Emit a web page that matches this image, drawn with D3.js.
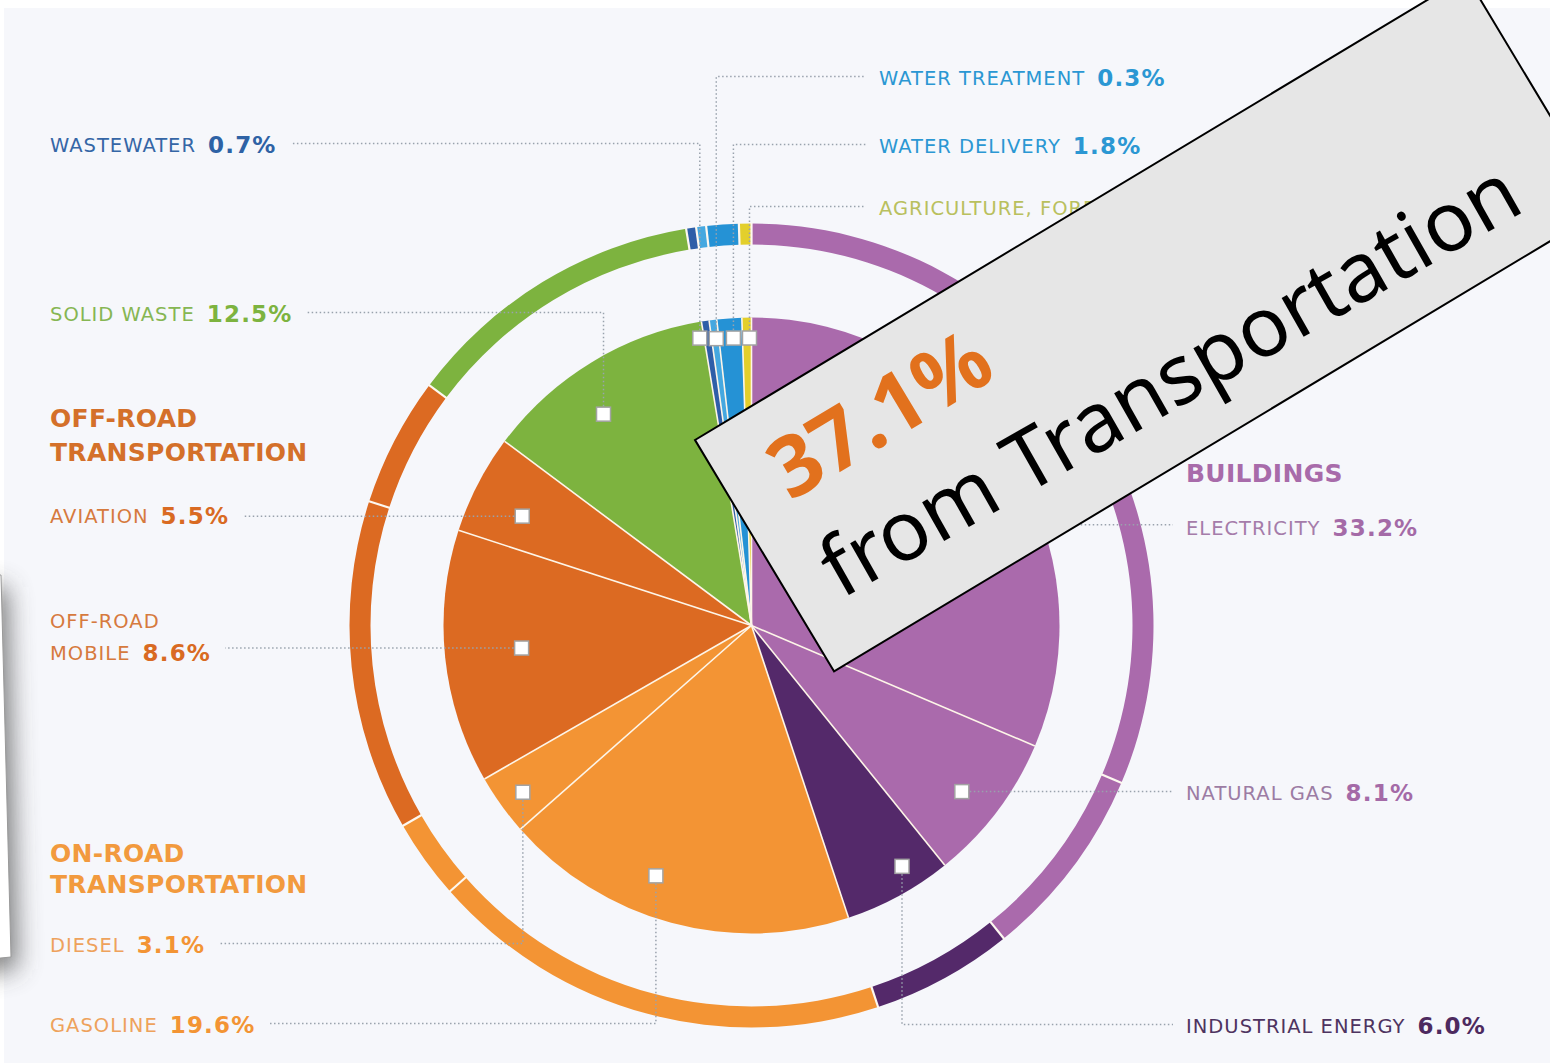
<!DOCTYPE html>
<html>
<head>
<meta charset="utf-8">
<script src="https://cdn.jsdelivr.net/npm/d3@7/dist/d3.min.js"></script>
<style>
    body { margin: 0; background: #ffffff; }
    svg { display: block; }
</style>
</head>
<body>
<svg id="chart" width="1550" height="1063"></svg>
<script>
// sectors clockwise from 12 o'clock
var sectors = ["Electricity", "Natural Gas", "Industrial Energy", "Gasoline", "Diesel", "Off-Road Mobile",
    "Aviation", "Solid Waste", "Wastewater", "Water Treatment", "Water Delivery", "Agriculture"];
var labelNames = [["ELECTRICITY"], ["NATURAL GAS"], ["INDUSTRIAL ENERGY"], ["GASOLINE"], ["DIESEL"],
    ["OFF-ROAD", "MOBILE"], ["AVIATION"], ["SOLID WASTE"], ["WASTEWATER"], ["WATER TREATMENT"],
    ["WATER DELIVERY"], ["AGRICULTURE, FORESTRY & OTHER LAND USE"]];
var pctLabels = ["33.2%", "8.1%", "6.0%", "19.6%", "3.1%", "8.6%", "5.5%", "12.5%", "0.7%", "0.3%", "1.8%", "0.6%"];
// share of the circle each slice takes in the picture (%)
var sliceShare = [31.4, 7.8, 5.7, 18.6, 3.2, 13.3, 5.2, 12.2, 0.4, 0.4, 1.3, 0.5];
var groupHeads = [["BUILDINGS"], ["OFF-ROAD", "TRANSPORTATION"], ["ON-ROAD", "TRANSPORTATION"]];
var calloutPct = "37.1%";
var calloutText = "from Transportation";

var sliceColors = ["#aa6aac", "#aa6aac", "#54296a", "#f39434", "#f39434", "#dc6a22",
    "#dc6a22", "#7db33f", "#2e5ea8", "#45a8e0", "#2592d5", "#e3cf2c"];
var nameColors = ["#a57caa", "#9c7ca4", "#4e3360", "#eea25c", "#eea25c", "#d67a3e",
    "#d67a3e", "#86b653", "#3566a6", "#2b97d3", "#2b97d3", "#b9c05e"];
var pctColors = ["#a46aa7", "#a46aa7", "#4d2a5f", "#f39434", "#f39434", "#d96a22",
    "#d96a22", "#7db33f", "#2e62a5", "#2b97d3", "#2b97d3", "#b9c05e"];
var headColors = ["#a86baa", "#d4702a", "#f29a3e"];

// label layout: side, text x, baseline of last line, marker angle (deg) and radius
var labelLayout = [
    {side: "R", x: 1186, y: 535, ang: 56, r: 180},
    {side: "R", x: 1186, y: 800, ang: 128.3, r: 268},
    {side: "R", x: 1186, y: 1033, ang: 148, r: 284},
    {side: "L", x: 50, y: 1032, ang: 200.9, r: 268},
    {side: "L", x: 50, y: 952, ang: 233.9, r: 283},
    {side: "L", x: 50, y: 660, ang: 264.4, r: 231},
    {side: "L", x: 50, y: 523, ang: 295.5, r: 254},
    {side: "L", x: 50, y: 321, ang: 325, r: 258},
    {side: "L", x: 50, y: 152, ang: 349.8, r: 292},
    {side: "R", x: 879, y: 85, ang: 353.0, r: 289},
    {side: "R", x: 879, y: 153, ang: 356.4, r: 288},
    {side: "R", x: 879, y: 215, ang: 359.6, r: 287.5}
];
var headLayout = [
    {x: 1186, y: [482]},
    {x: 50, y: [427, 461]},
    {x: 50, y: [862, 893]}
];

var CX = 751.5, CY = 625.5;
var PIE_R = 308, RING_IN = 381, RING_OUT = 402;
var FONT = "'DejaVu Sans', sans-serif";

var svg = d3.select("#chart");

// page background
svg.append("rect").attr("x", 4).attr("y", 8).attr("width", 1546).attr("height", 1055).attr("fill", "#f6f7fb");

// left edge: corner of another page with its shadow
var defs = svg.append("defs");
defs.append("filter").attr("id", "blurShadow").attr("x", "-50%").attr("y", "-50%").attr("width", "200%").attr("height", "200%")
    .append("feGaussianBlur").attr("stdDeviation", 13);
var pagePts = [[-80, 575], [1, 575], [11, 957], [-80, 966]];
svg.append("polygon").attr("points", pagePts.map(function (p) { return (p[0] + 6) + "," + (p[1] + 12); }).join(" "))
    .attr("fill", "#404040").attr("opacity", 0.7).attr("filter", "url(#blurShadow)");
svg.append("polygon").attr("points", pagePts.map(function (p) { return p.join(","); }).join(" "))
    .attr("fill", "#ffffff").attr("stroke", "#9a9a9a").attr("stroke-width", 1);

var pie = d3.pie().sort(null).value(function (d) { return d; });
var arcs = pie(sliceShare);

var g = svg.append("g").attr("transform", "translate(" + CX + "," + CY + ")");
var pieArc = d3.arc().innerRadius(0).outerRadius(PIE_R);
var ringArc = d3.arc().innerRadius(RING_IN).outerRadius(RING_OUT);

g.selectAll("path.slice").data(arcs).enter().append("path").attr("class", "slice")
    .attr("d", pieArc).attr("fill", function (d, i) { return sliceColors[i]; });
g.selectAll("path.ring").data(arcs).enter().append("path").attr("class", "ring")
    .attr("d", ringArc).attr("fill", function (d, i) { return sliceColors[i]; });

// thin separators between slices
function polar(a, r) {
    return [Math.sin(a) * r, -Math.cos(a) * r];
}
arcs.forEach(function (d) {
    var a = d.startAngle;
    var p = polar(a, PIE_R);
    g.append("line").attr("x1", 0).attr("y1", 0).attr("x2", p[0]).attr("y2", p[1])
        .attr("stroke", "#fdf5e8").attr("stroke-width", 1.6);
    var p1 = polar(a, RING_IN - 1), p2 = polar(a, RING_OUT + 1);
    g.append("line").attr("x1", p1[0]).attr("y1", p1[1]).attr("x2", p2[0]).attr("y2", p2[1])
        .attr("stroke", "#fdf8f0").attr("stroke-width", 2.2);
});

// labels + leader lines
var leaders = svg.append("g");
var markers = svg.append("g");
var texts = svg.append("g");

labelLayout.forEach(function (L, i) {
    var a = L.ang * Math.PI / 180;
    var mp = polar(a, L.r);
    var mx = CX + mp[0], my = CY + mp[1];

    var names = labelNames[i];
    var lineH = 32;
    var endX = 0;
    names.forEach(function (nm, k) {
        var by = L.y - (names.length - 1 - k) * lineH;
        var t = texts.append("text").attr("x", L.x).attr("y", by)
            .attr("font-family", FONT).attr("font-size", 19.5).attr("letter-spacing", 1)
            .attr("fill", nameColors[i]).text(nm);
        if (k == names.length - 1) {
            var w = t.node().getComputedTextLength();
            var p = texts.append("text").attr("x", L.x + w + 12).attr("y", L.y + 1)
                .attr("font-family", FONT).attr("font-size", 23).attr("font-weight", "bold").attr("letter-spacing", 1.2)
                .attr("fill", pctColors[i]).text(pctLabels[i]);
            endX = L.x + w + 12 + p.node().getComputedTextLength();
        }
    });

    var ly = L.y - 8.5;
    if (Math.abs(ly - my) < 8) ly = my;
    var ex = L.side == "R" ? L.x - 13 : endX + 14;
    leaders.append("path").attr("d", "M" + mx + "," + my + "V" + ly + "H" + ex)
        .attr("fill", "none").attr("stroke", "#99a2ad").attr("stroke-width", 1.5).attr("stroke-dasharray", "1.5,2.5");

    markers.append("rect").attr("x", mx - 7).attr("y", my - 7).attr("width", 14).attr("height", 14)
        .attr("fill", "#ffffff").attr("stroke", "#a3a3a3").attr("stroke-width", 1.5);
});

groupHeads.forEach(function (lines, i) {
    lines.forEach(function (s, k) {
        texts.append("text").attr("x", headLayout[i].x).attr("y", headLayout[i].y[k])
            .attr("font-family", FONT).attr("font-size", 25).attr("font-weight", "bold").attr("letter-spacing", 0.3)
            .attr("fill", headColors[i]).text(s);
    });
});

// callout box pasted on top
var box = svg.append("g").attr("transform", "translate(695,440) rotate(-31)");
box.append("rect").attr("x", 0).attr("y", 0).attr("width", 900).attr("height", 270)
    .attr("fill", "#e6e6e6").attr("stroke", "#000000").attr("stroke-width", 2);

function fitText(sel, width) {
    sel.attr("font-size", 100);
    var w = sel.node().getComputedTextLength();
    sel.attr("font-size", 100 * width / w);
}
var t1 = box.append("text").attr("x", 50).attr("y", 102)
    .attr("font-family", "'Noto Sans', 'Open Sans', sans-serif").attr("font-weight", 700)
    .attr("fill", "#e2711d").text(calloutPct);
fitText(t1, 243);
var t2 = box.append("text").attr("x", 43).attr("y", 212)
    .attr("transform", "rotate(1.4,43,212)")
    .attr("font-family", "'Noto Sans', 'Open Sans', sans-serif")
    .attr("fill", "#000000").text(calloutText);
fitText(t2, 789);
</script>
</body>
</html>
